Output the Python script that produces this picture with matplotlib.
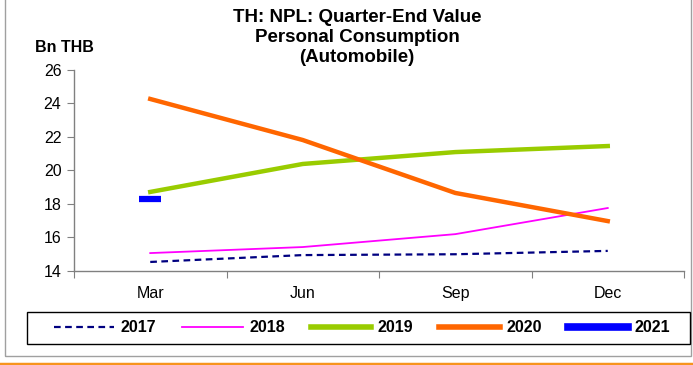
import matplotlib
matplotlib.use("Agg")
import matplotlib.pyplot as plt
from matplotlib.lines import Line2D
from matplotlib.patches import Rectangle

plt.rcParams['font.family'] = ['Liberation Sans', 'DejaVu Sans']

quarters = ["Mar", "Jun", "Sep", "Dec"]
v2017 = [14.54, 14.95, 15.00, 15.20]
v2018 = [15.07, 15.43, 16.20, 17.76]
v2019 = [18.72, 20.39, 21.10, 21.46]
v2020 = [24.27, 21.82, 18.66, 16.98]
v2021 = [18.30]
yticks = [14, 16, 18, 20, 22, 24, 26]

W, H = 693, 365
fig = plt.figure(figsize=(W / 100, H / 100), dpi=100)

# outer frame and orange rule
fig.patches.append(Rectangle((4.5 / W, 1 - 355.5 / H), 686.5 / W, 355.5 / H + 0.01,
                             transform=fig.transFigure, fill=False,
                             edgecolor="#a0a0a0", linewidth=1.0))
fig.add_artist(Line2D([0, 1], [1 - 364 / H] * 2, transform=fig.transFigure,
                      color="#f7941d", linewidth=2.5))

ax = fig.add_axes([74 / W, 1 - 271 / H, (684 - 74) / W, (271 - 70) / H])
x = list(range(len(quarters)))
ax.plot(x, v2017, color="#000080", linewidth=1.6, linestyle=(0, (3, 2)), label="2017")
ax.plot(x, v2018, color="#ff00ff", linewidth=1.3, label="2018")
ax.plot(x, v2019, color="#99cc00", linewidth=3.2, label="2019")
ax.plot(x, v2020, color="#ff6600", linewidth=3.2, label="2020")
ax.plot(x[:len(v2021)], v2021, color="#0000ff", linewidth=5.5, marker="_",
        markersize=16, markeredgewidth=4.5, label="2021")

ax.set_xlim(-0.5, 3.5)
ax.set_ylim(14, 26)
ax.set_yticks(yticks)
ax.set_xticks([i - 0.5 for i in range(5)])
ax.set_xticklabels([])
ax.set_xticks(x, minor=True)
ax.set_xticklabels(quarters, minor=True)
ax.tick_params(axis="x", which="minor", length=0, pad=11, labelsize=11.5)
ax.tick_params(axis="x", which="major", length=5, direction="out", color="#808080")
ax.tick_params(axis="y", length=5, direction="out", color="#808080", labelsize=11.5, pad=4)
for s in ("top", "right"):
    ax.spines[s].set_visible(False)
for s in ("left", "bottom"):
    ax.spines[s].set_color("#808080")
    ax.spines[s].set_linewidth(1.0)

title_lines = ["TH: NPL: Quarter-End Value", "Personal Consumption", "(Automobile)"]
for i, line in enumerate(title_lines):
    fig.text(357 / W, 1 - (17 + 20.5 * i) / H, line, ha="center", va="center",
             fontsize=13.5, fontweight="bold")
fig.text(35 / W, 1 - 47 / H, "Bn THB", ha="left", va="center", fontsize=11.5,
         fontweight="bold")

# legend box
fig.patches.append(Rectangle((27 / W, 1 - 344 / H), (690 - 27) / W, 32 / H,
                             transform=fig.transFigure, fill=False,
                             edgecolor="black", linewidth=1.0))
leg = fig.legend(loc="center", bbox_to_anchor=(362 / W, 1 - 328 / H),
                 bbox_transform=fig.transFigure, ncol=5, frameon=False,
                 handlelength=3.8, handletextpad=0.4, columnspacing=1.62,
                 borderaxespad=0, borderpad=0, prop={"weight": "bold", "size": 11.5})
for h in leg.legend_handles:
    h.set_marker("")
leg.legend_handles[2].set_linewidth(4)
leg.legend_handles[3].set_linewidth(4)
leg.legend_handles[4].set_linewidth(5.5)

fig.savefig("out.png", dpi=100)
